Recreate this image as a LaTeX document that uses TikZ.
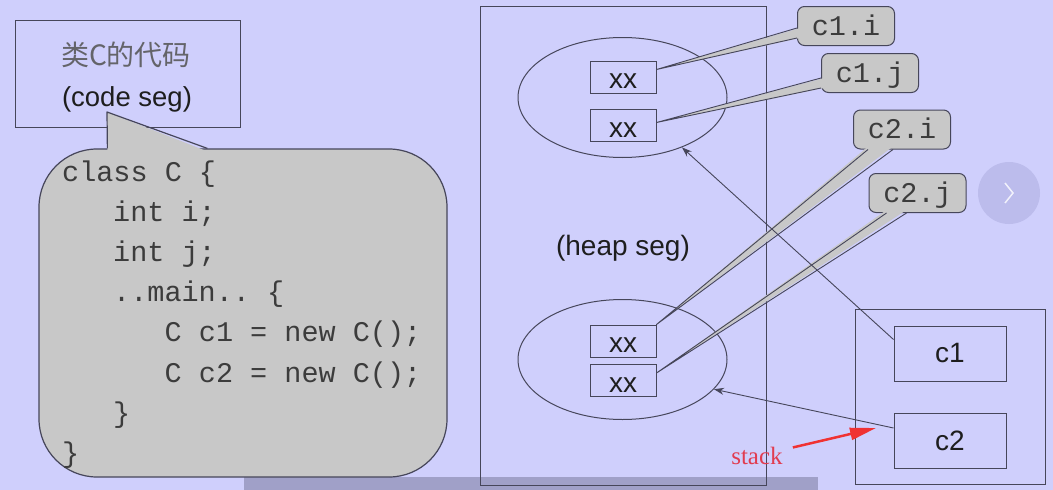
\documentclass[tikz,border=0pt]{standalone}
\usepackage{fontspec}
\setmainfont{Liberation Sans}
\setmonofont{Liberation Mono}
\newfontfamily\cjkfont{Noto Sans CJK SC}
\newfontfamily\labelfont{Liberation Serif}
\usetikzlibrary{arrows.meta, positioning, calc, shapes.geometric}

\definecolor{slidebg}{RGB}{207,207,252}
\definecolor{playerbar}{RGB}{160,160,200}
\definecolor{bubblegray}{RGB}{200,200,200}
\definecolor{edgedark}{RGB}{70,70,90}
\definecolor{codegray}{RGB}{60,60,60}
\definecolor{inkdark}{RGB}{30,30,30}
\definecolor{cjkgray}{RGB}{100,100,105}
\definecolor{btnlav}{RGB}{188,188,236}
\definecolor{arrowred}{RGB}{240,50,50}
\definecolor{labelred}{RGB}{225,60,80}

\begin{document}
\begin{tikzpicture}[
    x=1pt, y=-1pt,
    frame/.style={rectangle, draw=edgedark, line width=1pt, inner sep=0pt},
    cell/.style={frame, minimum width=66pt, minimum height=32pt, text height=23pt, text depth=0pt, text=inkdark, font=\fontsize{28}{28}\selectfont},
    stackcell/.style={frame, minimum width=112pt, minimum height=55pt, text=inkdark, font=\fontsize{28}{28}\selectfont},
    blob/.style={ellipse, draw=edgedark, line width=1pt, inner sep=0pt, minimum width=209pt, minimum height=120pt},
    tag/.style={rectangle, rounded corners=7pt, draw=edgedark, fill=bubblegray, line width=1pt, inner sep=0pt, minimum width=97pt, minimum height=39pt, text height=18pt, text depth=0pt, text=codegray, font=\ttfamily\fontsize{28.5}{28.5}\selectfont},
    bubble/.style={rectangle, rounded corners=58pt, draw=edgedark, fill=bubblegray, line width=1.2pt},
    wedgefill/.style={fill=bubblegray},
    wedgeline/.style={draw=edgedark, line width=0.9pt, line join=round},
    codeline/.style={anchor=base west, inner sep=0pt, text=codegray, font=\ttfamily\fontsize{28.5}{28.5}\selectfont},
    biglabel/.style={anchor=base, inner sep=0pt, text=inkdark, font=\fontsize{27.5}{28}\selectfont},
    arrow/.style={-{Stealth[length=10pt, width=7pt]}, draw=edgedark, line width=0.9pt},
    redarrow/.style={-{Triangle[length=26pt, width=12pt]}, draw=arrowred, line width=2.5pt}
]

% Slide background and player bar
\fill[slidebg] (0,0) rectangle (1053,490);
\fill[playerbar] (244,477) rectangle (818,490);

% Code segment box
\node[frame, minimum width=225pt, minimum height=107pt] (codeseg) at (127.5,73.5) {};
\node[anchor=base, inner sep=0pt, text=cjkgray, font=\cjkfont\fontsize{28}{28}\selectfont] (segname) at (126,65) {类C的代码};
\node[biglabel] (segtag) at (127,106) {(code seg)};

% Code bubble with pointer up to the code segment
\node[bubble, minimum width=408pt, minimum height=328pt] (codebody) at (243,313) {};
\coordinate (bubbletip) at (107,112);
\fill[bubblegray] ($(codebody.north west)+(69,3)$) -- (bubbletip) -- ($(codebody.north west)+(169,3)$) -- cycle;
\draw[edgedark, line width=1.2pt, line join=round] ($(codebody.north west)+(69,0)$) -- (bubbletip) -- ($(codebody.north west)+(169,0)$);

% Source lines
\node[codeline] (cls) at (62,181) {class C \{};
\node[codeline] (fldi) at (113,221) {int i;};
\node[codeline] (fldj) at (113,261.5) {int j;};
\node[codeline] (mainl) at (113,301.5) {..main.. \{};
\node[codeline] (newc1) at (164.5,341.5) {C c1 = new C();};
\node[codeline] (newc2) at (164.5,382) {C c2 = new C();};
\node[codeline] (endmain) at (113,422) {\}};
\node[codeline] (endcls) at (62,462) {\}};

% Heap segment
\node[frame, minimum width=286pt, minimum height=479pt] (heap) at (623,245.5) {};
\node[biglabel, font=\fontsize{28}{28}\selectfont] (heaplbl) at (623,255) {(heap seg)};

% Objects on the heap
\node[blob] (obj1) at (622.5,97.5) {};
\node[blob] (obj2) at (622.5,359.5) {};
\node[cell] (c1i) at (623,77) {xx};
\node[cell] (c1j) at (623,125.5) {xx};
\node[cell] (c2i) at (623,341) {xx};
\node[cell] (c2j) at (623,380.5) {xx};

% Field tags
\node[tag] (t1i) at (846,26) {c1.i};
\node[tag] (t1j) at (870,73) {c1.j};
\node[tag] (t2i) at (902,129.5) {c2.i};
\node[tag] (t2j) at (917.5,193) {c2.j};

% Wedges from tags to fields
\fill[wedgefill] ($(c1i.north east)+(0,9)$) -- ($(t1i.west)+(3,2)$) -- ($(t1i.west)+(3,12)$) -- cycle;
\draw[wedgeline] ($(t1i.west)+(0,2)$) -- ($(c1i.north east)+(0,9)$) -- ($(t1i.west)+(0,12)$);
\fill[wedgefill] ($(c1j.east)+(0,-3)$) -- ($(t1j.west)+(3,5)$) -- ($(t1j.west)+(3,15)$) -- cycle;
\draw[wedgeline] ($(t1j.west)+(0,5)$) -- ($(c1j.east)+(0,-3)$) -- ($(t1j.west)+(0,15)$);
\fill[wedgefill] (c2i.north east) -- ($(t2i.south west)+(15,-3)$) -- ($(t2i.south west)+(40,-3)$) -- cycle;
\draw[wedgeline] ($(t2i.south west)+(15,0)$) -- (c2i.north east) -- ($(t2i.south west)+(40,0)$);
\fill[wedgefill] ($(c2j.north east)+(0,9)$) -- ($(t2j.south west)+(18,-3)$) -- ($(t2j.south west)+(38,-3)$) -- cycle;
\draw[wedgeline] ($(t2j.south west)+(18,0)$) -- ($(c2j.north east)+(0,9)$) -- ($(t2j.south west)+(38,0)$);

% Stack segment
\node[frame, minimum width=190pt, minimum height=175pt] (stackseg) at (950,397) {};
\node[stackcell] (c1cell) at (950,353.5) {c1};
\node[stackcell] (c2cell) at (950,441) {c2};

% References from stack to heap
\draw[arrow] ($(c1cell.north west)+(0,14)$) -- (obj1.-40);
\draw[arrow] ($(c2cell.north west)+(0,15)$) -- (obj2.-18);

% Red stack marker
\node[anchor=base, inner sep=0pt, text=labelred, font=\labelfont\fontsize{25}{25}\selectfont] (stacklbl) at (757,464) {stack};
\coordinate (redtip) at (876,428);
\draw[redarrow] ($(stacklbl.north east)+(10,1)$) -- (redtip);

% Player next button
\node[circle, fill=btnlav, minimum size=62pt, inner sep=0pt] (nextbtn) at (1009,193) {};
\draw[white!80!btnlav, line width=1.5pt] ($(nextbtn.center)+(-4,-10)$) -- ($(nextbtn.center)+(4,0)$) -- ($(nextbtn.center)+(-4,10)$);

\end{tikzpicture}
\end{document}
